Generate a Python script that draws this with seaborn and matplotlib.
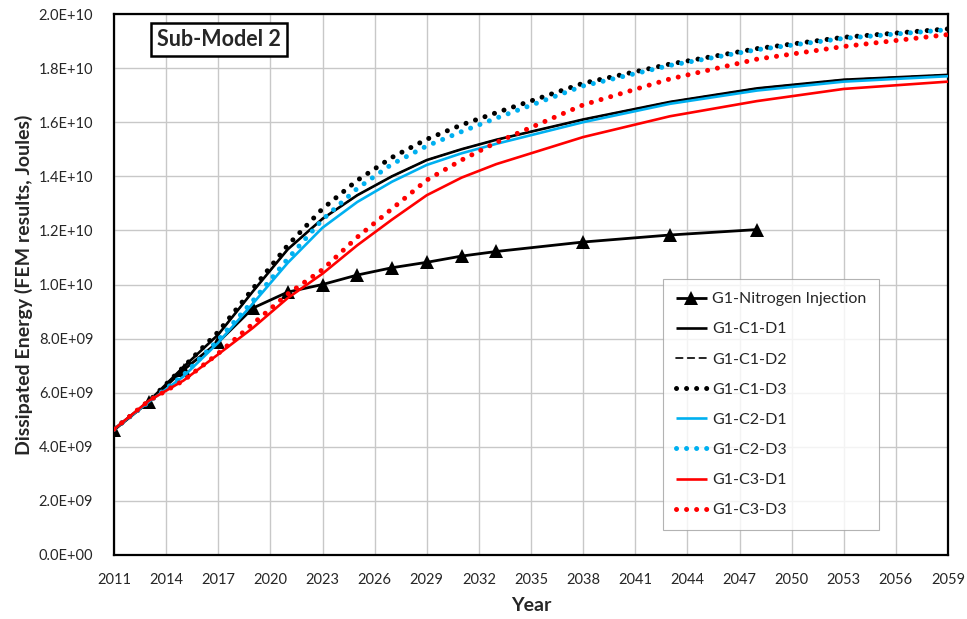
import matplotlib
matplotlib.use("Agg")
import matplotlib.pyplot as plt
from matplotlib.ticker import FuncFormatter, MultipleLocator
import seaborn as sns
import pandas as pd

# Simulation output years
years = [2011, 2013, 2015, 2017, 2019, 2021, 2023, 2025, 2027, 2029, 2031,
         2033, 2038, 2043, 2048, 2053, 2059]
years_n2 = [2011, 2013, 2015, 2017, 2019, 2021, 2023, 2025, 2027, 2029, 2031,
            2033, 2038, 2043, 2048]

# Dissipated energy, in units of 1E+09 J
n2_injection = [4.62, 5.66, 6.84, 7.87, 9.13, 9.72, 10.0, 10.35, 10.62, 10.82,
                11.05, 11.22, 11.57, 11.83, 12.03]
c1_d1 = [4.65, 5.68, 6.95, 8.15, 9.75, 11.3, 12.43, 13.3, 14.0, 14.6, 15.0,
         15.35, 16.1, 16.75, 17.25, 17.57, 17.75]
c1_d2 = [4.65, 5.68, 6.95, 8.15, 9.75, 11.3, 12.43, 13.3, 14.0, 14.6, 15.0,
         15.35, 16.1, 16.75, 17.25, 17.57, 17.75]
c1_d3 = [4.65, 5.68, 6.95, 8.25, 9.85, 11.45, 12.8, 13.85, 14.7, 15.37, 15.9,
         16.35, 17.44, 18.15, 18.72, 19.14, 19.45]
c2_d1 = [4.65, 5.66, 6.6, 7.85, 9.3, 10.8, 12.1, 13.05, 13.8, 14.42, 14.85,
         15.2, 16.0, 16.68, 17.17, 17.5, 17.7]
c2_d3 = [4.65, 5.66, 6.65, 7.95, 9.4, 10.95, 12.4, 13.55, 14.45, 15.12, 15.65,
         16.15, 17.34, 18.1, 18.68, 19.1, 19.42]
c3_d1 = [4.65, 5.7, 6.45, 7.42, 8.4, 9.5, 10.4, 11.45, 12.4, 13.3, 13.95,
         14.45, 15.45, 16.22, 16.78, 17.23, 17.5]
c3_d3 = [4.65, 5.7, 6.45, 7.45, 8.55, 9.65, 10.55, 11.75, 12.8, 13.86, 14.6,
         15.25, 16.64, 17.6, 18.33, 18.8, 19.24]

x_ticks = list(range(2011, 2060, 3))

sns.set_theme(style="white")
plt.rcParams["font.family"] = ["Lato", "DejaVu Sans"]

fig = plt.figure(figsize=(9.67, 6.19), dpi=100)
ax = fig.add_axes([114 / 967, 1 - 555 / 619, 834 / 967, 541 / 619])

BLUE = "#00B0F0"
RED = "#FF0000"
DOT = (0, (0.01, 2.0))

series = [
    ("G1-Nitrogen Injection", years_n2, n2_injection, "black", "-", 2.0, "^"),
    ("G1-C1-D1", years, c1_d1, "black", "-", 1.9, None),
    ("G1-C1-D2", years, c1_d2, "black", (0, (4, 3)), 1.2, None),
    ("G1-C1-D3", years, c1_d3, "black", DOT, 3.6, None),
    ("G1-C2-D1", years, c2_d1, BLUE, "-", 1.9, None),
    ("G1-C2-D3", years, c2_d3, BLUE, DOT, 3.6, None),
    ("G1-C3-D1", years, c3_d1, RED, "-", 1.9, None),
    ("G1-C3-D3", years, c3_d3, RED, DOT, 3.6, None),
]

for name, xs, ys, color, ls, lw, marker in series:
    df = pd.DataFrame({"Year": xs, "Energy": [v * 1e9 for v in ys]})
    kw = dict(color=color, linestyle=ls, linewidth=lw, label=name,
              dash_capstyle="round", solid_capstyle="butt")
    if marker:
        kw.update(marker=marker, markersize=10.5, markeredgewidth=0)
    sns.lineplot(data=df, x="Year", y="Energy", ax=ax, zorder=3, **kw)

ax.set_xlim(2011, 2059)
ax.set_ylim(0, 2.0e10)
ax.set_xticks(x_ticks)
ax.yaxis.set_major_locator(MultipleLocator(2.0e9))
ax.yaxis.set_major_formatter(FuncFormatter(lambda v, p: f"{v:.1E}"))
ax.grid(True, color="#c8c8c8", linewidth=1.0, zorder=0)
ax.tick_params(axis="both", length=0, labelsize=10.5, colors="#262626")
ax.tick_params(axis="x", pad=13)
ax.tick_params(axis="y", pad=15)
for sp in ax.spines.values():
    sp.set_color("black")
    sp.set_linewidth(1.6)
    sp.set_visible(True)

ax.set_xlabel("Year", fontsize=14, fontweight="bold", labelpad=7)
ax.set_ylabel("Dissipated Energy (FEM results, Joules)", fontsize=14,
              fontweight="bold", labelpad=4)

ax.text(0.052, 0.952, "Sub-Model 2", transform=ax.transAxes, fontsize=15.5,
        fontweight="bold", va="center", ha="left", zorder=5,
        bbox=dict(boxstyle="square,pad=0.28", facecolor="white",
                  edgecolor="black", linewidth=1.8))

leg = ax.legend(loc="lower left", bbox_to_anchor=(0.658, 0.046),
                fontsize=11.5, frameon=True, fancybox=False, shadow=False,
                handlelength=1.95, handletextpad=0.35, labelspacing=1.0,
                borderpad=0.8, borderaxespad=0)
leg.get_frame().set_edgecolor("#a0a0a0")
leg.get_frame().set_linewidth(0.8)
leg.set_zorder(6)

fig.savefig("out.png", dpi=100)
